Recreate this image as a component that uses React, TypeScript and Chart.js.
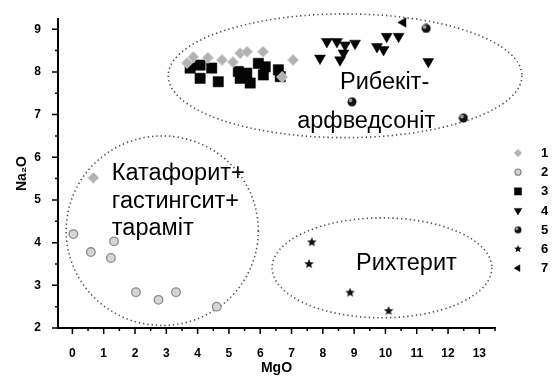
import React, { useEffect, useRef } from 'react';
import { Chart, registerables } from 'chart.js';
import { drawPoint } from 'chart.js/helpers';

Chart.register(...registerables);

type Pt = [number, number];

// Axis tick values
const xTicks = [0, 1, 2, 3, 4, 5, 6, 7, 8, 9, 10, 11, 12, 13];
const yTicks = [2, 3, 4, 5, 6, 7, 8, 9];

const seriesNames = ['1', '2', '3', '4', '5', '6', '7'];

// MgO, Na2O pairs per sample group
const series1: Pt[] = [
  [3.66, 8.21], [3.86, 8.35], [4.33, 8.33], [4.78, 8.28], [5.13, 8.23],
  [5.36, 8.44], [5.58, 8.47], [6.09, 8.47], [7.05, 8.28], [6.7, 7.88],
  [0.67, 5.52],
];
const series2: Pt[] = [
  [0.03, 4.2], [0.59, 3.78], [1.33, 4.03], [1.23, 3.64],
  [2.03, 2.84], [2.75, 2.66], [3.31, 2.84], [4.61, 2.5],
];
const series3: Pt[] = [
  [3.76, 8.09], [4.08, 8.16], [4.45, 8.09], [4.08, 7.85], [4.66, 7.77],
  [5.3, 8.01], [5.36, 7.85], [5.57, 7.97], [5.68, 7.74], [5.94, 8.2],
  [6.16, 8.12], [6.1, 7.93], [6.58, 8.05], [6.64, 7.89],
];
const series4: Pt[] = [
  [7.91, 8.32], [8.13, 8.71], [8.45, 8.71], [8.71, 8.63], [9.03, 8.67],
  [8.66, 8.44], [8.55, 8.28], [9.73, 8.59], [9.94, 8.52], [10.04, 8.83],
  [10.42, 8.83], [11.37, 8.24],
];
const series5: Pt[] = [[11.3, 9.02], [8.93, 7.3], [12.49, 6.92]];
const series6: Pt[] = [[7.65, 4.01], [7.56, 3.5], [8.87, 2.83], [10.1, 2.4]];
const series7: Pt[] = [[10.57, 9.16]];

// Field outlines (centre and half-axes in MgO / Na2O units)
const fieldEllipses = [
  { cx: 8.71, cy: 7.91, rx: 5.65, ry: 1.45 },
  { cx: 2.87, cy: 4.28, rx: 3.07, ry: 2.22 },
  { cx: 9.89, cy: 3.41, rx: 3.51, ry: 1.17 },
];

// Field names, anchored at the left end of their baseline
const fieldLabels = [
  { text: 'Рибекіт-', x: 8.55, y: 7.6 },
  { text: 'арфведсоніт', x: 7.18, y: 6.69 },
  { text: 'Катафорит+', x: 1.26, y: 5.47 },
  { text: 'гастингсит+', x: 1.26, y: 4.81 },
  { text: 'тараміт', x: 1.26, y: 4.18 },
  { text: 'Рихтерит', x: 9.06, y: 3.36 },
];

const FONT = "'Liberation Sans', Arial, sans-serif";

function makeStar(size: number): HTMLCanvasElement {
  const c = document.createElement('canvas');
  c.width = size;
  c.height = size;
  const g = c.getContext('2d')!;
  const r = size / 2;
  const ri = r * 0.45;
  g.beginPath();
  for (let i = 0; i < 10; i++) {
    const a = -Math.PI / 2 + (i * Math.PI) / 5;
    const rr = i % 2 === 0 ? r : ri;
    const px = r + Math.cos(a) * rr;
    const py = r + Math.sin(a) * rr;
    if (i === 0) g.moveTo(px, py);
    else g.lineTo(px, py);
  }
  g.closePath();
  g.fillStyle = '#111';
  g.fill();
  return c;
}

function makeBall(size: number): HTMLCanvasElement {
  const c = document.createElement('canvas');
  c.width = size;
  c.height = size;
  const g = c.getContext('2d')!;
  const r = size / 2;
  g.beginPath();
  g.arc(r, r, r - 0.5, 0, Math.PI * 2);
  g.fillStyle = '#111';
  g.fill();
  g.beginPath();
  g.arc(r - r * 0.3, r - r * 0.3, r * 0.38, 0, Math.PI * 2);
  g.fillStyle = '#9a9a9a';
  g.fill();
  return c;
}

const decorPlugin = {
  id: 'decor',
  beforeDatasetsDraw(chart: any) {
    const { ctx, scales } = chart;
    const xs = scales.x;
    const ys = scales.y;
    ctx.save();
    ctx.setLineDash([1.3, 3]);
    ctx.lineWidth = 1.6;
    ctx.strokeStyle = '#4a4a4a';
    for (const e of fieldEllipses) {
      const cx = xs.getPixelForValue(e.cx);
      const cy = ys.getPixelForValue(e.cy);
      const rx = Math.abs(xs.getPixelForValue(e.cx + e.rx) - cx);
      const ry = Math.abs(ys.getPixelForValue(e.cy + e.ry) - cy);
      ctx.beginPath();
      ctx.ellipse(cx, cy, rx, ry, 0, 0, Math.PI * 2);
      ctx.stroke();
    }
    ctx.restore();
  },
  afterDraw(chart: any) {
    const { ctx, scales, chartArea } = chart;
    const xs = scales.x;
    const ys = scales.y;
    ctx.save();
    // tick marks: major at each labelled value, minor halfway between
    ctx.strokeStyle = '#000';
    ctx.lineWidth = 1.5;
    ctx.beginPath();
    xTicks.forEach((v) => {
      const px = xs.getPixelForValue(v);
      ctx.moveTo(px, chartArea.bottom);
      ctx.lineTo(px, chartArea.bottom + 6);
      const mx = xs.getPixelForValue(v + 0.5);
      if (mx <= chartArea.right + 0.5) {
        ctx.moveTo(mx, chartArea.bottom);
        ctx.lineTo(mx, chartArea.bottom + 3);
      }
    });
    yTicks.forEach((v) => {
      const py = ys.getPixelForValue(v);
      ctx.moveTo(chartArea.left, py);
      ctx.lineTo(chartArea.left - 6, py);
      const my = ys.getPixelForValue(v + 0.5);
      if (my >= chartArea.top - 0.5) {
        ctx.moveTo(chartArea.left, my);
        ctx.lineTo(chartArea.left - 3, my);
      }
    });
    ctx.stroke();

    // field names
    ctx.fillStyle = '#000';
    ctx.font = `23.5px ${FONT}`;
    ctx.textAlign = 'left';
    ctx.textBaseline = 'alphabetic';
    for (const l of fieldLabels) {
      ctx.fillText(l.text, xs.getPixelForValue(l.x), ys.getPixelForValue(l.y));
    }

    // legend column
    const lx = 518;
    const ly0 = 153;
    const step = 19.2;
    chart.data.datasets.forEach((ds: any, i: number) => {
      const y = ly0 + i * step;
      ctx.fillStyle = ds.backgroundColor;
      ctx.strokeStyle = ds.borderColor;
      ctx.lineWidth = ds.borderWidth;
      drawPoint(ctx, {
        pointStyle: ds.legendStyle ?? ds.pointStyle,
        rotation: ds.pointRotation,
        radius: ds.pointRadius * 0.7,
        borderWidth: ds.borderWidth,
      }, lx, y);
      ctx.fillStyle = '#000';
      ctx.font = `bold 13px ${FONT}`;
      ctx.textBaseline = 'middle';
      ctx.fillText(ds.label, 541, y + 0.5);
    });
    ctx.restore();
  },
};

export default function App() {
  const ref = useRef<HTMLCanvasElement | null>(null);

  useEffect(() => {
    if (!ref.current) return;
    const star = makeStar(10);
    const ball = makeBall(10);
    const starSmall = makeStar(8);
    const ballSmall = makeBall(8);
    const toXY = (a: Pt[]) => a.map(([x, y]) => ({ x, y }));

    const datasets: any[] = [
      {
        label: seriesNames[0], data: toXY(series1), pointStyle: 'rectRot', pointRadius: 5.5,
        backgroundColor: '#b2b2b2', borderColor: '#cdcdcd', borderWidth: 1,
      },
      {
        label: seriesNames[1], data: toXY(series2), pointStyle: 'circle', pointRadius: 4.3,
        backgroundColor: '#d6d6d6', borderColor: '#8a8a8a', borderWidth: 1.3,
      },
      {
        label: seriesNames[2], data: toXY(series3), pointStyle: 'rect', pointRadius: 7.3,
        backgroundColor: '#050505', borderColor: '#050505', borderWidth: 0.5,
      },
      {
        label: seriesNames[3], data: toXY(series4), pointStyle: 'triangle', pointRotation: 180,
        pointRadius: 6.3, backgroundColor: '#050505', borderColor: '#050505', borderWidth: 0.5,
      },
      {
        label: seriesNames[4], data: toXY(series5), pointStyle: ball, legendStyle: ballSmall,
        pointRadius: 5, backgroundColor: '#111', borderColor: '#111', borderWidth: 0,
      },
      {
        label: seriesNames[5], data: toXY(series6), pointStyle: star, legendStyle: starSmall,
        pointRadius: 5, backgroundColor: '#111', borderColor: '#111', borderWidth: 0,
      },
      {
        label: seriesNames[6], data: toXY(series7), pointStyle: 'triangle', pointRotation: 270,
        pointRadius: 5.5, backgroundColor: '#050505', borderColor: '#050505', borderWidth: 0.5,
      },
    ];
    datasets.forEach((d) => { d.clip = false; d.pointHoverRadius = d.pointRadius; });

    const chart = new Chart(ref.current, {
      type: 'scatter',
      data: { datasets },
      options: {
        animation: false,
        responsive: false,
        devicePixelRatio: 1,
        events: [],
        layout: { padding: { top: 19, right: 57, left: 0, bottom: 0 } },
        plugins: { legend: { display: false }, tooltip: { enabled: false } },
        scales: {
          x: {
            type: 'linear',
            min: -0.46,
            max: 13.5,
            afterFit: (s: any) => { s.height = 50; },
            afterBuildTicks: (s: any) => { s.ticks = xTicks.map((value) => ({ value })); },
            grid: { display: false },
            border: { display: true, color: '#000', width: 2 },
            ticks: {
              color: '#000', padding: 10, maxRotation: 0, autoSkip: false,
              font: { family: FONT, size: 12, weight: 'bold' },
            },
            title: {
              display: true, text: 'MgO', color: '#000',
              font: { family: FONT, size: 14, weight: 'bold' },
              padding: { top: 0, bottom: 1 },
            },
          },
          y: {
            type: 'linear',
            min: 2,
            max: 9.24,
            afterFit: (s: any) => { s.width = 58; },
            afterBuildTicks: (s: any) => { s.ticks = yTicks.map((value) => ({ value })); },
            grid: { display: false },
            border: { display: true, color: '#000', width: 2 },
            ticks: {
              color: '#000', padding: 9, autoSkip: false,
              font: { family: FONT, size: 12, weight: 'bold' },
            },
            title: {
              display: true, text: 'Na₂O', color: '#000',
              font: { family: FONT, size: 14, weight: 'bold' },
              padding: { top: 14, bottom: 0 },
            },
          },
        },
      },
      plugins: [decorPlugin],
    } as any);

    return () => chart.destroy();
  }, []);

  return (
    <div style={{ position: 'absolute', left: 0, top: 0, width: 552, height: 378, background: '#fff' }}>
      <canvas ref={ref} width={552} height={378} />
    </div>
  );
}
